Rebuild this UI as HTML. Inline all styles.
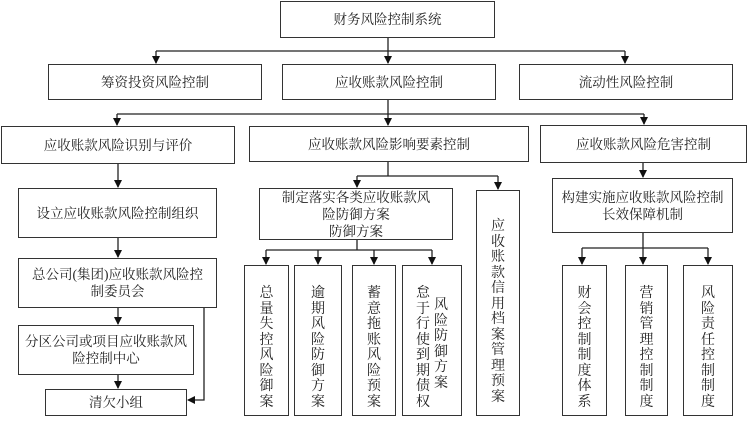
<!DOCTYPE html>
<html><head><meta charset="utf-8"><style>
body{margin:0;width:749px;height:421px;background:#fff;position:relative;overflow:hidden;font-family:"Liberation Serif","Noto Serif CJK SC","Noto Sans CJK SC",serif;color:#222}
.b{position:absolute;box-sizing:border-box;border:1.5px solid #333;display:flex;align-items:center;justify-content:center;text-align:center;font-size:13.5px;line-height:17px;background:#fff}
.v{display:block;text-align:center;padding-top:20px;font-size:14px;line-height:15.5px}
.v span{display:inline-block;width:14px;word-break:break-all;vertical-align:top}
svg{position:absolute;left:0;top:0}
</style></head><body>
<svg width="749" height="421">
<defs><marker id="a" markerWidth="8" markerHeight="8" refX="7" refY="4" orient="auto" markerUnits="userSpaceOnUse"><path d="M0,0L8,4L0,8z" fill="#111"/></marker></defs>
<g stroke="#222" stroke-width="1.3" fill="none">
<path d="M388 38V51M156 51H625"/>
<path d="M156 51V63" marker-end="url(#a)"/><path d="M388 51V63" marker-end="url(#a)"/><path d="M625 51V63" marker-end="url(#a)"/>
<path d="M388 100V114M117 114H644"/>
<path d="M117 114V125" marker-end="url(#a)"/><path d="M388 114V125" marker-end="url(#a)"/><path d="M644 114V124" marker-end="url(#a)"/>
<path d="M118 164V187" marker-end="url(#a)"/><path d="M118 238V257" marker-end="url(#a)"/><path d="M118 308V324" marker-end="url(#a)"/><path d="M118 375V388" marker-end="url(#a)"/>
<path d="M204 308V400H188" marker-end="url(#a)"/>
<path d="M388 162V176M357 176H498"/>
<path d="M357 176V187" marker-end="url(#a)"/><path d="M498 176V189" marker-end="url(#a)"/>
<path d="M357 240V250M266 250H432"/>
<path d="M266 250V264" marker-end="url(#a)"/><path d="M318 250V264" marker-end="url(#a)"/><path d="M374 250V264" marker-end="url(#a)"/><path d="M432 250V264" marker-end="url(#a)"/>
<path d="M643 163V177" marker-end="url(#a)"/>
<path d="M643 233V248M582 248H708"/>
<path d="M582 248V264" marker-end="url(#a)"/><path d="M643 248V264" marker-end="url(#a)"/><path d="M708 248V264" marker-end="url(#a)"/>
</g></svg>
<div class="b" style="left:280px;top:1px;width:215px;height:37px">财务风险控制系统</div>
<div class="b" style="left:48px;top:64px;width:214px;height:36px">筹资投资风险控制</div>
<div class="b" style="left:282px;top:64px;width:214px;height:36px">应收账款风险控制</div>
<div class="b" style="left:519px;top:64px;width:214px;height:36px">流动性风险控制</div>
<div class="b" style="left:1px;top:126px;width:234px;height:38px">应收账款风险识别与评价</div>
<div class="b" style="left:249px;top:126px;width:280px;height:36px">应收账款风险影响要素控制</div>
<div class="b" style="left:540px;top:125px;width:207px;height:38px">应收账款风险危害控制</div>
<div class="b" style="left:18px;top:188px;width:199px;height:50px">设立应收账款风险控制组织</div>
<div class="b" style="left:18px;top:258px;width:199px;height:50px">总公司(集团)应收账款风险控<br>制委员会</div>
<div class="b" style="left:18px;top:325px;width:176px;height:50px">分区公司或项目应收账款风<br>险控制中心</div>
<div class="b" style="left:45px;top:389px;width:142px;height:27px">清欠小组</div>
<div class="b" style="left:259px;top:188px;width:194px;height:52px">制定落实各类应收账款风<br>险防御方案<br>防御方案</div>
<div class="b v" style="left:476px;top:190px;width:44px;height:226px;padding-top:28px"><span>应收账款信用档案管理预案</span></div>
<div class="b v" style="left:244px;top:265px;width:45px;height:151px"><span>总量失控风险御案</span></div>
<div class="b v" style="left:294px;top:265px;width:48px;height:151px"><span>逾期风险防御方案</span></div>
<div class="b v" style="left:352px;top:265px;width:44px;height:151px"><span>蓄意拖账风险预案</span></div>
<div class="b v" style="left:402px;top:265px;width:60px;height:151px;padding-top:20px"><span>怠于行使到期债权</span><span style="margin-left:4px;margin-top:12px">风险防御方案</span></div>
<div class="b" style="left:552px;top:178px;width:181px;height:55px">构建实施应收账款风险控制<br>长效保障机制</div>
<div class="b v" style="left:562px;top:265px;width:45px;height:151px"><span>财会控制制度体系</span></div>
<div class="b v" style="left:625px;top:265px;width:43px;height:151px"><span>营销管理控制制度</span></div>
<div class="b v" style="left:683px;top:265px;width:50px;height:151px"><span>风险责任控制制度</span></div>
</body></html>
